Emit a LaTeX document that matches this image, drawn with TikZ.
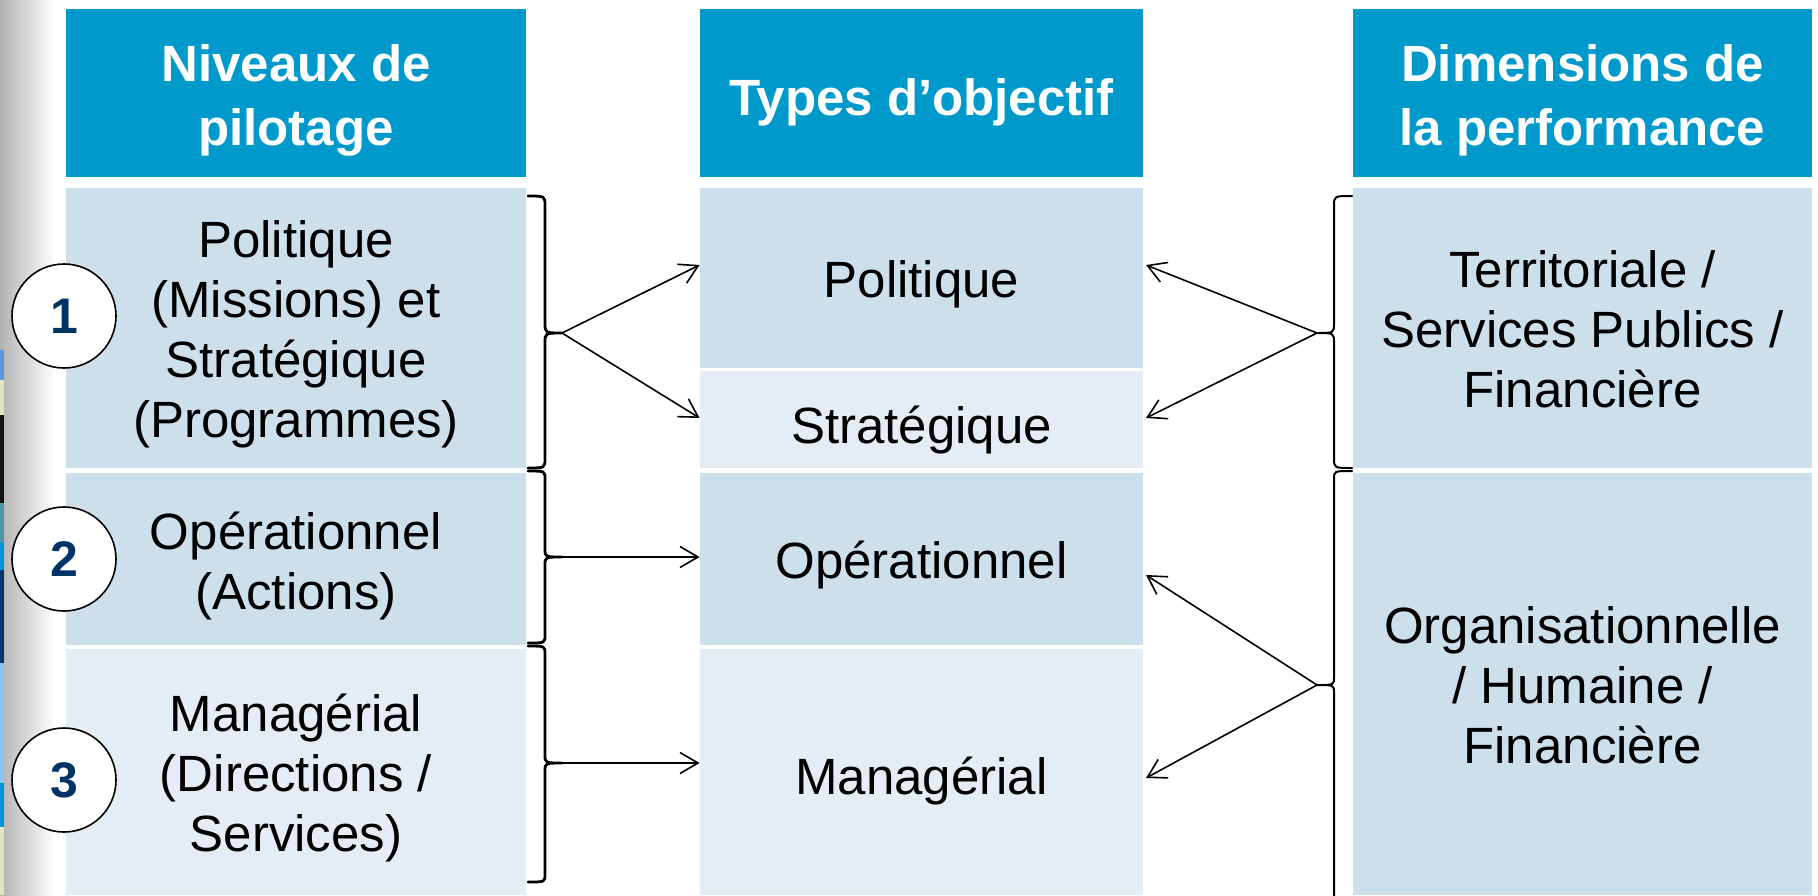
\documentclass[tikz,border=0pt]{standalone}
\usepackage{fontspec}
\setmainfont{Liberation Sans}
\usetikzlibrary{arrows.meta}
\definecolor{hdr}{RGB}{0,153,204}
\definecolor{cellA}{RGB}{204,223,235}
\definecolor{cellB}{RGB}{228,237,245}
\definecolor{numcol}{RGB}{0,51,102}
\definecolor{stA}{RGB}{90,150,220}
\definecolor{stB}{RGB}{230,228,190}
\definecolor{stC}{RGB}{20,20,20}
\definecolor{stD}{RGB}{80,150,170}
\definecolor{stE}{RGB}{0,150,210}
\definecolor{stF}{RGB}{0,55,110}
\definecolor{stG}{RGB}{140,195,245}
\newcommand\bs{\rule[-5.5pt]{0pt}{30pt}}
\newcommand\hs{\rule[-5pt]{0pt}{31pt}}
\begin{document}
\begin{tikzpicture}[x=0.5pt,y=-0.5pt,
  cellbox/.style={rectangle, inner sep=0pt, align=center, text=black,
    font=\fontsize{25.5}{30}\selectfont},
  hdrbox/.style={rectangle, inner sep=0pt, align=center, fill=hdr, text=white,
    font=\bfseries\fontsize{25.5}{29}\selectfont},
  numbox/.style={circle, draw=black, line width=0.8pt, fill=white,
    minimum size=52pt, inner sep=0pt, text=numcol,
    font=\bfseries\fontsize{25}{25}\selectfont},
  bracel/.style={line width=1.4pt, line join=round, line cap=round},
  bracer/.style={line width=1pt, line join=round, line cap=round},
  arr/.style={line width=0.8pt, -{Straight Barb[length=9pt,width=10.5pt,line width=0.8pt]}}]
\useasboundingbox (0,0) rectangle (1818,895);
\fill[white] (0,0) rectangle (1818,895);
% left edge background
\shade[left color=gray!60, right color=white] (0,0) rectangle (55,895);
\fill[stA] (0,350) rectangle (4,380);
\fill[stB] (0,380) rectangle (4,415);
\fill[stC] (0,415) rectangle (4,503);
\fill[stD] (0,503) rectangle (4,543);
\fill[stE] (0,543) rectangle (4,570);
\fill[stF] (0,570) rectangle (4,663);
\fill[stG] (0,663) rectangle (4,783);
\fill[stE] (0,783) rectangle (4,827);
\fill[stB] (0,827) rectangle (4,895);

% headers
\node[hdrbox, minimum width=230pt, minimum height=84pt] (h1) at (296,93) {\hs Niveaux de\\pilotage\hs};
\node[hdrbox, minimum width=221.5pt, minimum height=84pt] (h2) at (921.5,93) {\rule[-5pt]{0pt}{33pt}Types d’objectif};
\node[hdrbox, minimum width=229.5pt, minimum height=84pt] (h3) at (1582.5,93) {\hs Dimensions de\\la performance\hs};

% left column
\node[cellbox, fill=cellA, minimum width=230pt, minimum height=140pt] (l1) at (296,328)
  {\bs Politique\\(Missions) et\\Stratégique\\(Programmes)\bs};
\node[cellbox, fill=cellA, minimum width=230pt, minimum height=86pt] (l2) at (296,559)
  {\rule[-5.5pt]{0pt}{31pt}Opérationnel\\(Actions)\bs};
\node[cellbox, fill=cellB, minimum width=230pt, minimum height=123pt] (l3) at (296,772)
  {\bs Managérial\\(Directions /\\Services)\bs};

% middle column
\node[cellbox, fill=cellA, minimum width=221.5pt, minimum height=90pt] (m1) at (921.5,278) {\bs Politique};
\node[cellbox, fill=cellB, minimum width=221.5pt, minimum height=48.5pt] (m2) at (921.5,419.5) {\rule[-5.5pt]{0pt}{35pt}Stratégique};
\node[cellbox, fill=cellA, minimum width=221.5pt, minimum height=86pt] (m3) at (921.5,559) {\bs Opérationnel};
\node[cellbox, fill=cellB, minimum width=221.5pt, minimum height=123pt] (m4) at (921.5,772) {\rule[-5.5pt]{0pt}{33.5pt}Managérial};

% right column
\node[cellbox, fill=cellA, minimum width=229.5pt, minimum height=140pt] (r1) at (1582.5,328)
  {\bs Territoriale /\\Services Publics /\\Financière\bs};
\node[cellbox, fill=cellA, minimum width=229.5pt, minimum height=211pt] (r2) at (1582.5,684)
  {\bs Organisationnelle\\/ Humaine /\\Financière\bs};

% numbered circles
\node[numbox] (c1) at (64,316) {1};
\node[numbox] (c2) at (64,559) {2};
\node[numbox] (c3) at (64,780) {3};

% left braces
\draw[bracel] (528,196) .. controls (545,196) .. (545,206) -- (545,323)
  .. controls (545,333) .. (562,333) .. controls (545,333) .. (545,343)
  -- (545,458) .. controls (545,468) .. (528,468);
\draw[bracel] (528,471) .. controls (545,471) .. (545,479) -- (545,549)
  .. controls (545,557) .. (562,557) .. controls (545,557) .. (545,565)
  -- (545,635) .. controls (545,643) .. (528,643);
\draw[bracel] (528,646) .. controls (545,646) .. (545,654) -- (545,755)
  .. controls (545,763) .. (562,763) .. controls (545,763) .. (545,771)
  -- (545,874) .. controls (545,882) .. (528,882);

% right braces
\draw[bracer] (1352,196) .. controls (1334,196) .. (1334,206) -- (1334,323)
  .. controls (1334,333) .. (1317,333) .. controls (1334,333) .. (1334,343)
  -- (1334,458) .. controls (1334,468) .. (1352,468);
\draw[bracer] (1352,471) .. controls (1334,471) .. (1334,479) -- (1334,677)
  .. controls (1334,685) .. (1317,685) .. controls (1334,685) .. (1334,693)
  -- (1334,900);

% brace tips and arrow targets
\coordinate (bl1) at (562,333);
\coordinate (bl2) at (562,557);
\coordinate (bl3) at (562,763);
\coordinate (br1) at (1317,333);
\coordinate (br2) at (1317,685);
\coordinate (tm1l) at (m1.west |- 0,265);
\coordinate (tm2l) at (m2.west |- 0,418);
\coordinate (tm3l) at (m3.west |- 0,557);
\coordinate (tm4l) at (m4.west |- 0,763);
\coordinate (tm1r) at (1146,265);
\coordinate (tm2r) at (1146,418);
\coordinate (tm3r) at (1146,575);
\coordinate (tm4r) at (1146,778);

\draw[arr] (bl1) -- (tm1l);
\draw[arr] (bl1) -- (tm2l);
\draw[arr] (bl2) -- (tm3l);
\draw[arr] (bl3) -- (tm4l);
\draw[arr] (br1) -- (tm1r);
\draw[arr] (br1) -- (tm2r);
\draw[arr] (br2) -- (tm3r);
\draw[arr] (br2) -- (tm4r);
\end{tikzpicture}
\end{document}
